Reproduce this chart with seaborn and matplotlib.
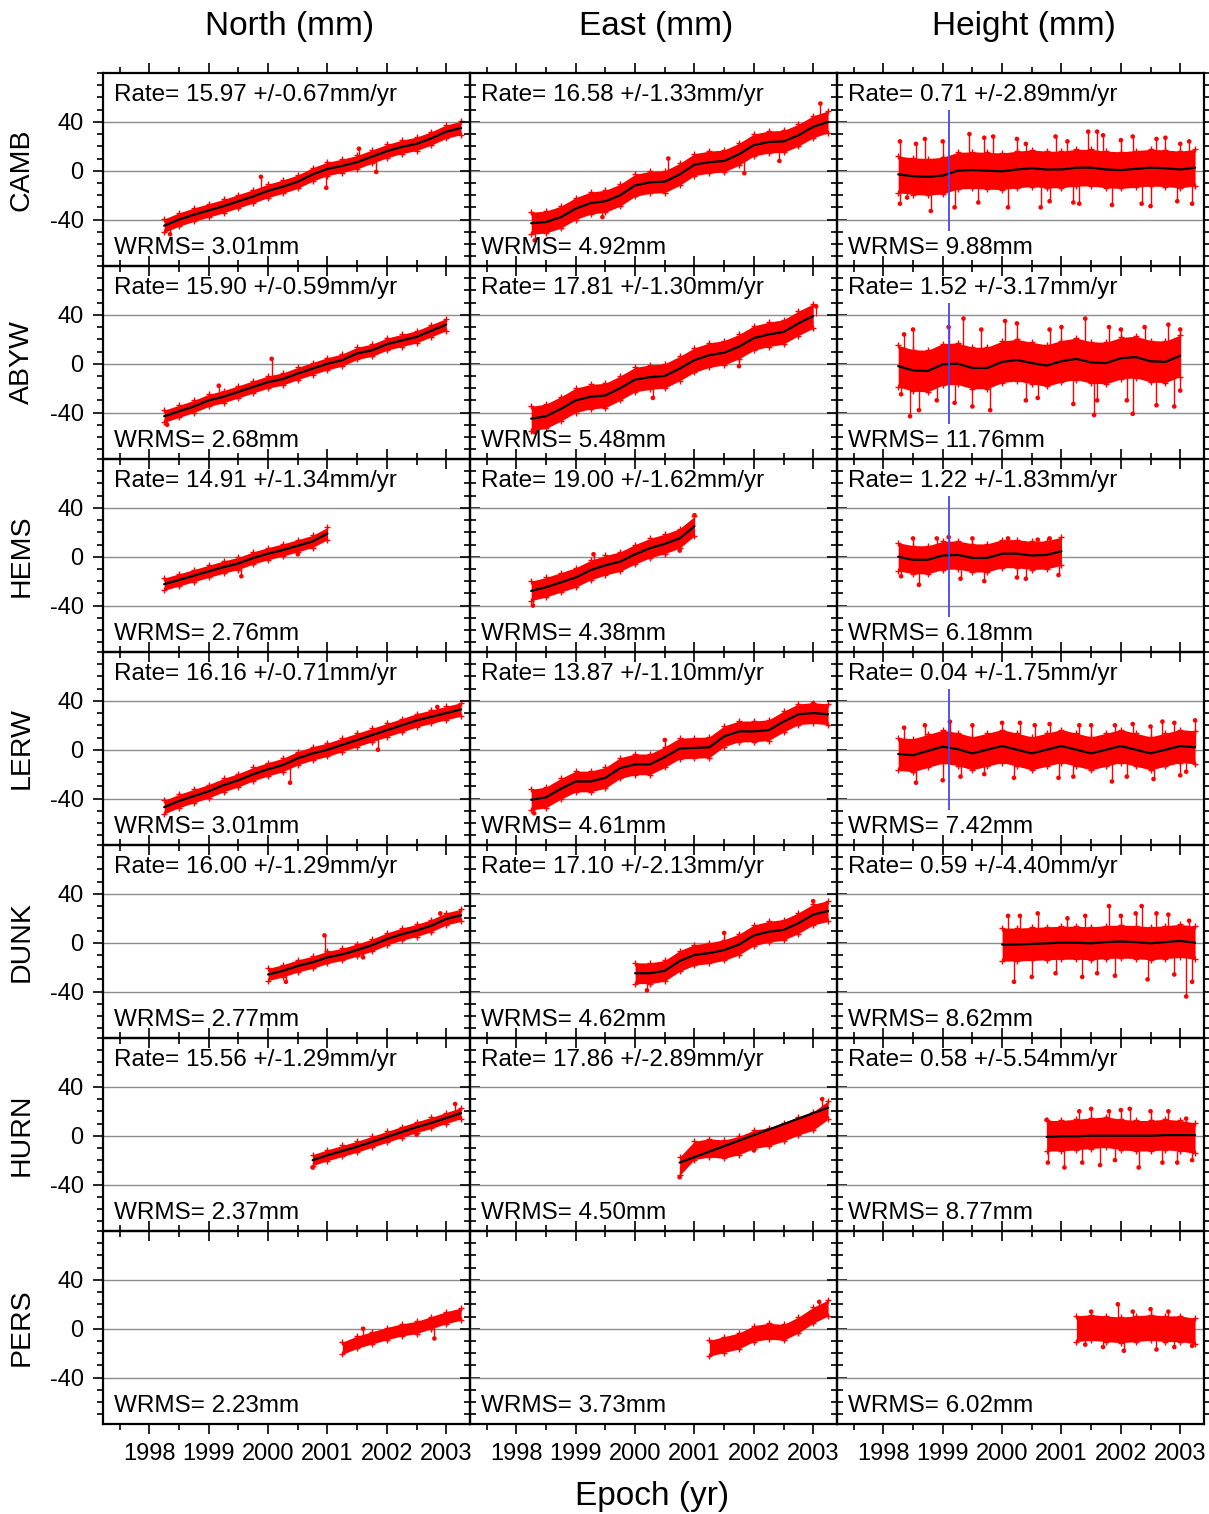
import numpy as np
import pandas as pd
import matplotlib
matplotlib.use("Agg")
import matplotlib.pyplot as plt
from matplotlib.ticker import MultipleLocator, FixedLocator
import seaborn as sns

nan = float("nan")

# ---------------------------------------------------------------- data
EPOCHS = [1998.25, 1998.5, 1998.75, 1999.0, 1999.25, 1999.5, 1999.75,
          2000.0, 2000.25, 2000.5, 2000.75, 2001.0, 2001.25, 2001.5,
          2001.75, 2002.0, 2002.25, 2002.5, 2002.75, 2003.0, 2003.25]
STATIONS = ["CAMB", "ABYW", "HEMS", "LERW", "DUNK", "HURN", "PERS"]
COMPONENTS = ["North (mm)", "East (mm)", "Height (mm)"]

# centre of the red point cloud at each epoch (mm)
CAMB_N = [-45, -40, -36, -32.5, -29, -25, -21, -16.5, -13, -9, -3, 1.5, 4, 7, 11.5, 16, 19.5, 22, 26.5, 32, 35]
CAMB_E = [-43, -42, -38, -31, -26.5, -25, -20, -12, -9.5, -9, -3, 5, 7, 8, 13.5, 21, 23.5, 24, 29, 36, 40]
CAMB_U = [-3, -4.5, -5, -4, 0, 0.5, 0, -0.5, 1, 2, 1, 1, 2.5, 2.5, 1, 0.5, 1.5, 2.5, 2, 1, 2.5]

ABYW_N = [-43, -39, -35, -30, -27, -23, -19, -15, -12.5, -8, -4, 0, 3, 8.5, 11, 16, 19, 22, 27, 32, nan]
ABYW_E = [-45, -43, -37, -30, -27, -26, -20, -13, -11, -10, -4, 3, 7, 9, 14, 21, 24, 26, 33, 39, nan]
ABYW_U = [-2, -5.5, -6, -0.5, 0, -3.5, -3.5, 1.5, 3, 0.5, -1.5, 2, 4, 1, 0.5, 4.5, 5.5, 2, 1.5, 6.5, nan]

HEMS_N = [-22.5, -19, -15.5, -12, -8.5, -5.5, -1, 2.5, 5.5, 9, 12.5, 19] + [nan] * 9
HEMS_E = [-28, -25, -21, -17, -11, -7, -4, 2, 7, 10.5, 15, 25] + [nan] * 9
HEMS_U = [0, -2.5, -2.5, 1, 1.5, -1, -1, 2.5, 2.5, 1, 1.5, 4.5] + [nan] * 9

LERW_N = [-47, -42, -38, -34, -29, -25, -20, -16, -12.5, -7, -3, 0, 4, 8, 12, 16, 20, 24, 27, 30, 33]
LERW_E = [-41, -39, -32, -26, -26, -23, -15, -12, -12, -6, 1, 1.5, 2, 11, 15, 15, 16, 23, 29, 30, 29]
LERW_U = [-3.5, -4.5, -1, 2.5, 0.5, -3, 0, 3, 0, -3, 0, 3, 0, -3, 0, 3, 0, -3, 0, 3, 2]

DUNK_N = [nan] * 7 + [-26, -23, -19, -16, -12, -9.5, -6, -2, 3, 7, 10, 14, 19.5, 22.5]
DUNK_E = [nan] * 7 + [-25, -25, -23, -15, -10, -8.5, -6, -1.5, 6, 9, 10.5, 16, 23, 26]
DUNK_U = [nan] * 7 + [-1.5, -1.5, -1, -0.5, 0, 0, -0.5, 0.5, 1, 0.5, -0.5, 0.5, 1.5, 0]

HURN_N = [nan] * 10 + [-20, -16, -12.5, -9, -5, -1, 3, 7, 10.5, 14.5, 18.5]
HURN_E = [nan] * 10 + [-25, -12, -10, -11, -8, -3, -1, 3, 8, 12, 21]
HURN_U = [nan] * 10 + [0, 0, 1, 2, 3, 1, 0, 0, 1, 0, -2]

PERS_N = [nan] * 12 + [-16, -11, -7.5, -4, -1, 1, 5, 9, 12]
PERS_E = [nan] * 12 + [-16, -13, -10, -4, -2, -3, 3, 11, 17]
PERS_U = [nan] * 12 + [0, 1, 0, -1, 0, 1, 0, 0, -2]

# fitted model (black line) where it differs from the cloud centre
HURN_E_FIT = [nan] * 10 + [-22, -17.5, -13, -8.5, -4, 0.5, 5, 9.5, 14, 18.5, 23]
HURN_U_FIT = [nan] * 10 + [-1, -0.5, -0.5, 0, 0, 0, 0, 0, 0.5, 0.5, 0.5]

# typical half-width of the point cloud (mm)
HALF_NORTH = [5.5, 5, 5, 5.5, 5, 4.5, 5]
HALF_EAST = [9, 10, 8, 8.5, 8.5, 7.5, 6.5]
HALF_HEIGHT = [15, 17, 11.5, 13.5, 13.5, 12.5, 10.5]

# outlying daily solutions (epoch, mm)
CAMB_N_OUT = [(1999.88, -5), (2000.98, -14), (2001.53, 18), (2001.82, -1), (1998.35, -52)]
CAMB_E_OUT = [(1998.31, -57), (2000.56, 10), (2001.84, -2), (2002.43, 8), (2003.12, 55), (1999.45, -38)]
CAMB_U_OUT = [(1998.28, 24), (1998.28, -27), (1998.55, 22), (1998.8, -33), (1999.0, 24), (1999.45, 30),
              (1999.6, -26), (1999.85, 28), (2000.1, -30), (2000.4, 22), (2000.65, -30), (2000.9, 28),
              (2001.3, -27), (2001.45, 32), (2001.6, 32), (2001.85, -28), (2002.0, 25), (2002.35, -27),
              (2002.6, 26), (2002.95, -25), (2003.15, 24), (2003.2, -27), (1998.4, -22), (1998.7, 26),
              (1999.2, -30), (1999.7, 27), (2000.25, 26), (2000.8, -25), (2001.1, 24), (2001.2, -26),
              (2001.7, 29), (2002.2, 28), (2002.5, -29), (2002.75, 27), (2003.0, 22)]
ABYW_N_OUT = [(2000.06, 4), (1999.17, -18), (1998.3, -50)]
ABYW_E_OUT = [(2001.75, -2), (1998.3, -56), (2003.05, 47), (2000.3, -28)]
ABYW_U_OUT = [(1998.3, -25), (1998.45, -43), (1998.6, -38), (1998.35, 24), (1999.1, 30), (1999.35, 37),
              (1999.5, -35), (1999.8, -38), (2000.05, 35), (2000.4, -30), (2001.0, 30), (2001.4, 37),
              (2001.6, -30), (2001.55, -42), (2002.1, -30), (2002.2, -41), (2002.4, 30), (2002.8, 32),
              (2003.0, 28), (2003.0, -22), (1998.5, 28), (1998.9, -30), (1999.2, -32), (1999.65, 28),
              (2000.25, 33), (2000.6, -28), (2000.8, 28), (2001.2, -33), (2001.8, 30), (2002.0, 28),
              (2002.6, -34), (2002.9, -35)]
HEMS_N_OUT = [(1999.55, -16), (2000.5, 2)]
HEMS_E_OUT = [(1998.28, -40), (2001.0, 34), (1999.3, 2), (2000.75, 5)]
HEMS_U_OUT = [(1998.3, -16), (1998.6, -23), (1999.1, 16), (1999.7, -20), (2000.1, 15), (2000.4, -18),
              (2000.6, 14), (2000.95, -15), (1998.9, 15), (1998.5, 15), (1999.3, -18), (1999.5, 15),
              (2000.25, -17), (2000.8, 15)]
LERW_N_OUT = [(2000.37, -27), (2001.85, 0), (2002.85, 35)]
LERW_E_OUT = [(1998.3, -52), (2000.5, 8), (2003.0, 38), (2001.9, 8)]
LERW_U_OUT = [(1998.35, 18), (1998.55, -27), (1999.0, -25), (1999.12, 23), (1999.5, 20), (2000.0, 22),
              (2000.2, -23), (2000.55, 20), (2000.95, -23), (2001.5, 20), (2001.85, -26), (2001.9, 20),
              (2002.5, 19), (2002.55, -24), (2002.9, 22), (2003.25, 24), (2003.1, -18), (1998.7, 20),
              (1999.3, -22), (1999.7, -20), (2000.3, 22), (2000.8, 21), (2001.2, -22), (2001.3, 20),
              (2002.1, -22), (2002.2, 21), (2002.7, 23), (2003.0, -21)]
DUNK_N_OUT = [(2000.95, 6), (2001.6, -12), (2002.9, 24), (2000.3, -32)]
DUNK_E_OUT = [(2000.2, -39), (2003.0, 34), (2001.5, 8)]
DUNK_U_OUT = [(2000.1, 22), (2000.3, 22), (2001.4, 22), (2001.8, 30), (2002.25, 24), (2002.35, 30),
              (2002.6, 24), (2000.2, -32), (2000.5, -28), (2001.35, -28), (2001.9, -27), (2002.45, -30),
              (2003.1, -44), (2003.2, -32), (2003.15, 18), (2000.6, 24), (2000.9, -25), (2001.1, 20),
              (2001.6, -25), (2002.0, 22), (2002.8, 23), (2002.9, -26)]
HURN_N_OUT = [(2000.75, -26), (2003.15, 26), (2002.5, 1)]
HURN_E_OUT = [(2000.75, -34), (2003.15, 30), (2002.0, -12)]
HURN_U_OUT = [(2000.75, 13), (2000.77, -22), (2001.05, -26), (2001.5, 22), (2001.8, 20), (2001.9, -20),
              (2002.15, 22), (2002.3, -26), (2002.5, 20), (2002.7, -22), (2002.8, 20), (2003.1, 14),
              (2003.2, -20), (2001.3, 20), (2001.35, -22), (2001.65, -24), (2002.0, 21), (2002.95, -22)]
PERS_N_OUT = [(2001.6, 0), (2002.8, -8)]
PERS_E_OUT = [(2003.1, 22)]
PERS_U_OUT = [(2001.95, 20), (2002.5, 16), (2002.05, -18), (2002.6, -17), (2003.2, -14), (2001.4, -13),
              (2001.5, 14), (2001.7, -15), (2002.2, 14), (2002.8, 14), (2002.9, -15)]

RATE_NORTH = [15.97, 15.90, 14.91, 16.16, 16.00, 15.56, nan]
RATE_NORTH_ERR = [0.67, 0.59, 1.34, 0.71, 1.29, 1.29, nan]
RATE_EAST = [16.58, 17.81, 19.00, 13.87, 17.10, 17.86, nan]
RATE_EAST_ERR = [1.33, 1.30, 1.62, 1.10, 2.13, 2.89, nan]
RATE_HEIGHT = [0.71, 1.52, 1.22, 0.04, 0.59, 0.58, nan]
RATE_HEIGHT_ERR = [2.89, 3.17, 1.83, 1.75, 4.40, 5.54, nan]
WRMS_NORTH = [3.01, 2.68, 2.76, 3.01, 2.77, 2.37, 2.23]
WRMS_EAST = [4.92, 5.48, 4.38, 4.61, 4.62, 4.50, 3.73]
WRMS_HEIGHT = [9.88, 11.76, 6.18, 7.42, 8.62, 8.77, 6.02]

BREAK_EPOCH = 1999.1
BREAK_STATIONS = ["CAMB", "ABYW", "HEMS", "LERW"]
YEAR_TICKS = [1998, 1999, 2000, 2001, 2002, 2003]
MM_TICKS = [-40, 0, 40]

# ---------------------------------------------------------------- tables
MIDS = {"CAMB": [CAMB_N, CAMB_E, CAMB_U], "ABYW": [ABYW_N, ABYW_E, ABYW_U],
        "HEMS": [HEMS_N, HEMS_E, HEMS_U], "LERW": [LERW_N, LERW_E, LERW_U],
        "DUNK": [DUNK_N, DUNK_E, DUNK_U], "HURN": [HURN_N, HURN_E, HURN_U],
        "PERS": [PERS_N, PERS_E, PERS_U]}
FITS = dict(MIDS)
FITS["HURN"] = [HURN_N, HURN_E_FIT, HURN_U_FIT]
FITS["PERS"] = [None, None, None]
OUTS = {"CAMB": [CAMB_N_OUT, CAMB_E_OUT, CAMB_U_OUT], "ABYW": [ABYW_N_OUT, ABYW_E_OUT, ABYW_U_OUT],
        "HEMS": [HEMS_N_OUT, HEMS_E_OUT, HEMS_U_OUT], "LERW": [LERW_N_OUT, LERW_E_OUT, LERW_U_OUT],
        "DUNK": [DUNK_N_OUT, DUNK_E_OUT, DUNK_U_OUT], "HURN": [HURN_N_OUT, HURN_E_OUT, HURN_U_OUT],
        "PERS": [PERS_N_OUT, PERS_E_OUT, PERS_U_OUT]}
HALF = [HALF_NORTH, HALF_EAST, HALF_HEIGHT]
RATES = [RATE_NORTH, RATE_EAST, RATE_HEIGHT]
RATE_ERRS = [RATE_NORTH_ERR, RATE_EAST_ERR, RATE_HEIGHT_ERR]
WRMS = [WRMS_NORTH, WRMS_EAST, WRMS_HEIGHT]

rows = []
for s in STATIONS:
    for c, comp in enumerate(COMPONENTS):
        fit = FITS[s][c]
        for i, ep in enumerate(EPOCHS):
            rows.append({"station": s, "component": comp, "epoch": ep,
                         "mid": MIDS[s][c][i],
                         "fit": fit[i] if fit is not None else nan})
df = pd.DataFrame(rows)

# ---------------------------------------------------------------- style
sns.set_theme(style="ticks")
plt.rcParams["font.family"] = ["Liberation Sans", "DejaVu Sans"]
plt.rcParams["axes.unicode_minus"] = False

W, H = 1209, 1514
fig = plt.figure(figsize=(W / 100, H / 100), dpi=100, facecolor="white")
COL_LEFT = [103, 470, 837]
PANEL_W = 367
ROW_TOP0 = 73
PANEL_H = 193
RED = "#ff0000"

for r, st in enumerate(STATIONS):
    top = ROW_TOP0 + r * PANEL_H
    for c, comp in enumerate(COMPONENTS):
        ax = fig.add_axes([COL_LEFT[c] / W, 1 - (top + PANEL_H) / H, PANEL_W / W, PANEL_H / H])
        ax.patch.set_alpha(0)
        ax.set_axisbelow(True)

        sub = df[(df.station == st) & (df.component == comp)].dropna(subset=["mid"])
        ep = sub.epoch.to_numpy()
        mid = sub.mid.to_numpy()
        hw = HALF[c][r]

        # point cloud
        ax.fill_between(ep, mid - hw, mid + hw, color=RED, lw=0, zorder=2)
        ax.plot(ep, mid + hw, ls="none", marker="+", ms=4, mew=1.0, color=RED, zorder=2)
        ax.plot(ep, mid - hw, ls="none", marker="+", ms=4, mew=1.0, color=RED, zorder=2)

        # outliers with their error-bar stems
        out = pd.DataFrame(OUTS[st][c], columns=["epoch", "value"])
        base = np.interp(out.epoch, ep, mid)
        ax.vlines(out.epoch, base, out.value, color=RED, lw=1.0, zorder=2)
        sns.scatterplot(data=out, x="epoch", y="value", color=RED, s=11,
                        edgecolor="none", ax=ax, zorder=3, legend=False)

        # fitted model
        fsub = sub.dropna(subset=["fit"])
        if len(fsub):
            sns.lineplot(data=fsub, x="epoch", y="fit", color="black", linewidth=1.6,
                         estimator=None, ax=ax, zorder=4)

        if c == 2 and st in BREAK_STATIONS:
            ax.vlines(BREAK_EPOCH, -49, 50, color="#4646f0", lw=1.3, zorder=5)

        ax.set_xlim(1997.22, 2003.40)
        ax.set_ylim(-78, 80)
        ax.set_xlabel("")
        ax.set_ylabel("")
        ax.xaxis.set_major_locator(FixedLocator(YEAR_TICKS))
        ax.xaxis.set_minor_locator(MultipleLocator(0.5))
        ax.yaxis.set_major_locator(FixedLocator(MM_TICKS))
        ax.yaxis.set_minor_locator(MultipleLocator(10))
        ax.grid(axis="y", which="major", color="#8c8c8c", lw=1.0)
        ax.grid(axis="x", visible=False)
        ax.tick_params(which="both", direction="out", top=True, right=True,
                       bottom=True, left=True, colors="black", width=1.2,
                       labelsize=17)
        ax.tick_params(which="major", length=7)
        ax.tick_params(which="minor", length=4)
        ax.tick_params(axis="x", pad=7)
        ax.tick_params(axis="y", pad=7)
        ax.tick_params(labelbottom=(r == len(STATIONS) - 1), labelleft=(c == 0),
                       labeltop=False, labelright=False)
        for sp in ax.spines.values():
            sp.set_color("black")
            sp.set_linewidth(1.6)
            sp.set_visible(True)

        rate = RATES[c][r]
        if not np.isnan(rate):
            ax.text(0.030, 0.888, f"Rate= {rate:.2f} +/-{RATE_ERRS[c][r]:.2f}mm/yr",
                    transform=ax.transAxes, fontsize=17.5, ha="left", va="center",
                    color="black", zorder=6)
        ax.text(0.030, 0.095, f"WRMS= {WRMS[c][r]:.2f}mm", transform=ax.transAxes,
                fontsize=17.5, ha="left", va="center", color="black", zorder=6)

    fig.text(22 / W, 1 - (top + PANEL_H / 2) / H, st, rotation=90, ha="center",
             va="center", fontsize=20.5, color="black")

for c, comp in enumerate(COMPONENTS):
    fig.text((COL_LEFT[c] + PANEL_W / 2 + 3) / W, 1 - 27 / H, comp, ha="center",
             va="center", fontsize=24, color="black")
fig.text(652 / W, 1 - 1496 / H, "Epoch (yr)", ha="center", va="center",
         fontsize=24, color="black")

fig.savefig("out.png", dpi=100, facecolor="white")
